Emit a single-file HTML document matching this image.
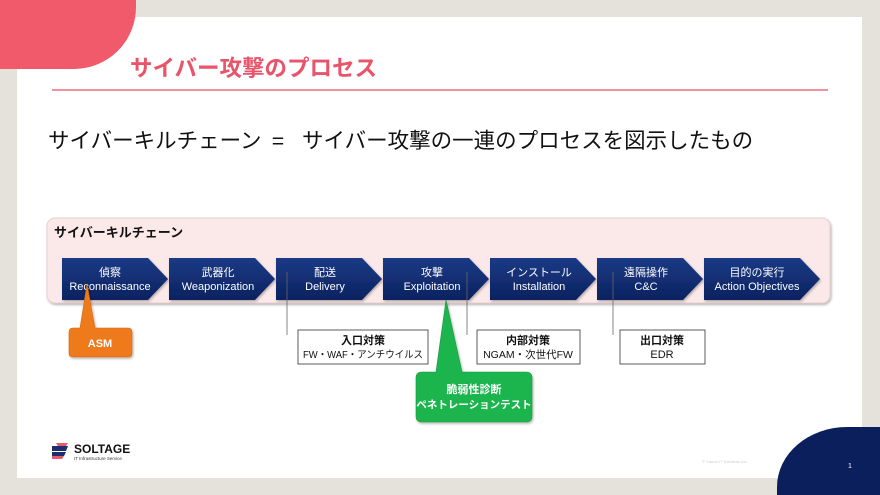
<!DOCTYPE html>
<html style="overflow:hidden"><head><meta charset="utf-8">
<style>
html,body{margin:0;width:880px;height:495px;overflow:hidden;}
body{background:#e5e2dc;position:relative;font-family:"Liberation Sans","Noto Sans CJK JP",sans-serif;}
.slide{position:absolute;left:17px;top:17px;width:845px;height:461px;background:#fff;}
.abs{position:absolute;white-space:nowrap;}
</style></head><body>
<div class="slide"></div>
<div class="abs" style="left:0;top:0;width:136px;height:69px;background:#f05a6a;border-bottom-right-radius:62px;"></div>
<div class="abs" style="left:777px;top:427px;width:103px;height:68px;background:#0b1f5c;border-top-left-radius:70px 60px;"></div>
<div class="abs" style="left:130px;top:51px;font-size:22.5px;font-weight:bold;color:#e8546a;">サイバー攻撃のプロセス</div>
<div class="abs" style="left:48px;top:126px;font-size:21.5px;line-height:30px;color:#111;">サイバーキルチェーン</div>
<div class="abs" style="left:272px;top:126px;font-size:21.5px;line-height:30px;color:#111;font-family:'Noto Sans CJK JP',sans-serif;">=</div>
<div class="abs" style="left:302px;top:126px;font-size:21.5px;line-height:30px;color:#111;">サイバー攻撃の一連のプロセスを図示したもの</div>

<svg class="abs" style="left:0;top:0" width="880" height="495">
<defs>
<linearGradient id="nv" x1="0" y1="0" x2="0" y2="1"><stop offset="0" stop-color="#1b3a85"/><stop offset="1" stop-color="#0b2260"/></linearGradient>
<filter id="sh"><feDropShadow dx="1" dy="1.5" stdDeviation="1.2" flood-opacity="0.3"/></filter>
</defs>
<line x1="52" y1="90" x2="828" y2="90" stroke="#ec6f80" stroke-width="1.5"/>
<rect x="47" y="218" width="783" height="85" rx="8" fill="#fbe9ea" stroke="#e9cfd0" filter="url(#sh)"/>
<text x="54" y="237" font-size="13" font-weight="bold" fill="#111">サイバーキルチェーン</text>
<g fill="url(#nv)" filter="url(#sh)">
<polygon points="62,258 148,258 168,279 148,300 62,300"/>
<polygon points="169,258 255,258 275,279 255,300 169,300"/>
<polygon points="276,258 362,258 382,279 362,300 276,300"/>
<polygon points="383,258 469,258 489,279 469,300 383,300"/>
<polygon points="490,258 576,258 596,279 576,300 490,300"/>
<polygon points="597,258 683,258 703,279 683,300 597,300"/>
<polygon points="704,258 800,258 820,279 800,300 704,300"/>
</g>
<g fill="#fff" font-size="11" text-anchor="middle">
<text x="110" y="276">偵察</text><text x="110" y="290">Reconnaissance</text>
<text x="218" y="276">武器化</text><text x="218" y="290">Weaponization</text>
<text x="325" y="276">配送</text><text x="325" y="290">Delivery</text>
<text x="432" y="276">攻撃</text><text x="432" y="290">Exploitation</text>
<text x="539" y="276">インストール</text><text x="539" y="290">Installation</text>
<text x="646" y="276">遠隔操作</text><text x="646" y="290">C&amp;C</text>
<text x="757" y="276">目的の実行</text><text x="757" y="290">Action Objectives</text>
</g>
<g stroke="#666" stroke-width="0.8">
<line x1="287" y1="272" x2="287" y2="335"/>
<line x1="467" y1="272" x2="467" y2="335"/>
<line x1="613" y1="272" x2="613" y2="335"/>
</g>
<g fill="#fff" stroke="#333" stroke-width="0.8">
<rect x="298" y="330" width="130" height="34"/>
<rect x="477" y="330" width="103" height="34"/>
<rect x="620" y="330" width="85" height="34"/>
</g>
<g font-size="11" text-anchor="middle" fill="#111">
<text x="363" y="344" font-weight="bold">入口対策</text><text x="363" y="358" font-size="10" textLength="120" lengthAdjust="spacingAndGlyphs">FW・WAF・アンチウイルス</text>
<text x="528" y="344" font-weight="bold">内部対策</text><text x="528" y="358" font-size="10.5">NGAM・次世代FW</text>
<text x="662" y="344" font-weight="bold">出口対策</text><text x="662" y="358">EDR</text>
</g>
<g filter="url(#sh)">
<path d="M73,328 L80,328 L87,284 L95,328 L128,328 Q132,328 132,332 L132,353 Q132,357 128,357 L73,357 Q69,357 69,353 L69,332 Q69,328 73,328Z" fill="#ee7a1a" stroke="#d86a10" stroke-width="0.6"/>
<path d="M422,372 L436,372 L446,300 L462,372 L526,372 Q532,372 532,378 L532,416 Q532,422 526,422 L422,422 Q416,422 416,416 L416,378 Q416,372 422,372Z" fill="#1fb54e" stroke="#169a3f" stroke-width="0.6"/>
</g>
<text x="100" y="347" font-size="11" font-weight="bold" fill="#fff" text-anchor="middle">ASM</text>
<g font-size="11" font-weight="bold" fill="#fff" text-anchor="middle">
<text x="474" y="393">脆弱性診断</text><text x="474" y="408" font-size="10.5">ペネトレーションテスト</text>
</g>
<g>
<polygon points="52,446 68,446 66,451 52,451" fill="#1b2f6e"/>
<polygon points="56,443 68,443 66,446 58,446" fill="#e85a6a"/>
<polygon points="52,452 66,452 64,456 52,456" fill="#1b2f6e"/>
<polygon points="52,456 64,456 62,459 52,459" fill="#e85a6a"/>
</g>
<text x="74" y="453" font-size="12" font-weight="bold" fill="#111">SOLTAGE</text>
<text x="74" y="460" font-size="4.5" fill="#333">IT Infrastructure Service</text>
<text x="702" y="463" font-size="4" fill="#ccc">© Canon IT Solutions Inc.</text>
<text x="848" y="468" font-size="7" fill="#fff">1</text>
</svg>
</body></html>
